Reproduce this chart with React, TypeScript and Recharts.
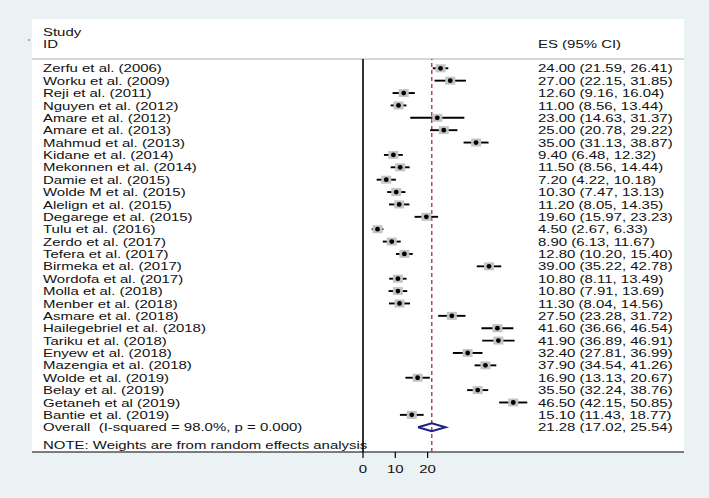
import { ScatterChart, Scatter, XAxis, YAxis, ErrorBar, ReferenceLine } from "recharts";

const STUDIES = [
  "Zerfu et al. (2006)",
  "Worku et al. (2009)",
  "Reji et al. (2011)",
  "Nguyen et al. (2012)",
  "Amare et al. (2012)",
  "Amare et al. (2013)",
  "Mahmud et al. (2013)",
  "Kidane et al. (2014)",
  "Mekonnen et al. (2014)",
  "Damie et al. (2015)",
  "Wolde M et al. (2015)",
  "Alelign et al. (2015)",
  "Degarege et al. (2015)",
  "Tulu et al. (2016)",
  "Zerdo et al. (2017)",
  "Tefera et al. (2017)",
  "Birmeka et al. (2017)",
  "Wordofa et al. (2017)",
  "Molla et al. (2018)",
  "Menber et al. (2018)",
  "Asmare et al. (2018)",
  "Hailegebriel et al. (2018)",
  "Tariku et al. (2018)",
  "Enyew et al. (2018)",
  "Mazengia et al. (2018)",
  "Wolde et al. (2019)",
  "Belay et al. (2019)",
  "Getaneh et al (2019)",
  "Bantie et al. (2019)",
];
const ES = [24.0, 27.0, 12.6, 11.0, 23.0, 25.0, 35.0, 9.4, 11.5, 7.2, 10.3, 11.2, 19.6, 4.5, 8.9, 12.8, 39.0, 10.8, 10.8, 11.3, 27.5, 41.6, 41.9, 32.4, 37.9, 16.9, 35.5, 46.5, 15.1];
const LOWER = [21.59, 22.15, 9.16, 8.56, 14.63, 20.78, 31.13, 6.48, 8.56, 4.22, 7.47, 8.05, 15.97, 2.67, 6.13, 10.2, 35.22, 8.11, 7.91, 8.04, 23.28, 36.66, 36.89, 27.81, 34.54, 13.13, 32.24, 42.15, 11.43];
const UPPER = [26.41, 31.85, 16.04, 13.44, 31.37, 29.22, 38.87, 12.32, 14.44, 10.18, 13.13, 14.35, 23.23, 6.33, 11.67, 15.4, 42.78, 13.49, 13.69, 14.56, 31.72, 46.54, 46.91, 36.99, 41.26, 20.67, 38.76, 50.85, 18.77];

const OVERALL_LABEL = "Overall  (I-squared = 98.0%, p = 0.000)";
const OVERALL_ES = 21.28;
const OVERALL_LO = 17.02;
const OVERALL_HI = 25.54;

const X_TICKS = [0, 10, 20];

const FONT = '"Liberation Sans", Arial, Helvetica, sans-serif';
const FS = 11.6;
const SX = 1.29;

const fmt = (v: number) => v.toFixed(2);
const overallRow = STUDIES.length + 1;
const rows = Array.from({ length: overallRow }, (_, i) => i + 1);

const leftText: Record<number, string> = {};
const rightText: Record<number, string> = {};
STUDIES.forEach((s, i) => {
  leftText[i + 1] = s;
  rightText[i + 1] = `${fmt(ES[i])} (${fmt(LOWER[i])}, ${fmt(UPPER[i])})`;
});
leftText[overallRow] = OVERALL_LABEL;
rightText[overallRow] = `${fmt(OVERALL_ES)} (${fmt(OVERALL_LO)}, ${fmt(OVERALL_HI)})`;

const studyData = STUDIES.map((_, i) => ({
  row: i + 1,
  x: ES[i],
  err: [ES[i] - LOWER[i], UPPER[i] - ES[i]],
}));

// diamond outline for the pooled estimate
const DH = 0.32;
const diamondData = [
  { x: OVERALL_LO, row: overallRow },
  { x: OVERALL_ES, row: overallRow - DH },
  { x: OVERALL_HI, row: overallRow },
  { x: OVERALL_ES, row: overallRow + DH },
  { x: OVERALL_LO, row: overallRow },
];

function Txt({ x, y, anchor = "start", children }: { x: number; y: number; anchor?: string; children: any }) {
  return (
    <text
      transform={`translate(${x},${y}) scale(${SX},1)`}
      fontSize={FS}
      fontFamily={FONT}
      fill="#111"
      textAnchor={anchor as any}
      style={{ whiteSpace: "pre" }}
    >
      {children}
    </text>
  );
}

const LeftTick = ({ y, payload }: any) => <Txt x={43} y={y + 4.1}>{leftText[payload.value]}</Txt>;
const RightTick = ({ y, payload }: any) => <Txt x={538} y={y + 4.1}>{rightText[payload.value]}</Txt>;
const BottomTick = ({ x, payload }: any) => <Txt x={x} y={473} anchor="middle">{payload.value}</Txt>;

const BoxShape = ({ cx, cy }: any) => <rect x={cx - 5} y={cy - 4} width={10} height={8} fill="#c4c4c4" />;
const DotShape = ({ cx, cy }: any) => <circle cx={cx} cy={cy} r={2.4} fill="#000" />;

export default function App() {
  return (
    <div style={{ position: "absolute", left: 0, top: 0, width: 709, height: 498 }}>
      <svg width={709} height={498} style={{ position: "absolute", left: 0, top: 0 }}>
        <rect x={0} y={0} width={709} height={498} fill="#eaf2f3" />
        <rect x={32} y={19} width={652} height={433} fill="#fff" />
        <line x1={32} x2={684} y1={59} y2={59} stroke="#c8c8c8" strokeWidth={1.5} />
        <line x1={32} x2={684} y1={452} y2={452} stroke="#000" strokeWidth={1.2} />
        <circle cx={29} cy={40} r={0.8} fill="#555" />
        <Txt x={43} y={36}>Study</Txt>
        <Txt x={43} y={48.3}>ID</Txt>
        <Txt x={538} y={48.3}>ES (95% CI)</Txt>
        <Txt x={43} y={449}>NOTE: Weights are from random effects analysis</Txt>
      </svg>
      <div style={{ position: "absolute", left: 0, top: 0 }}>
        <ScatterChart width={709} height={498} margin={{ top: 59, right: 0, bottom: 0, left: 0 }}>
          <XAxis
            dataKey="x"
            type="number"
            domain={[0, 52]}
            ticks={X_TICKS}
            axisLine={false}
            tickSize={6}
            tickLine={{ stroke: "#000", strokeWidth: 1.2 }}
            tick={<BottomTick />}
            height={46}
            allowDataOverflow
          />
          <YAxis
            yAxisId="rows"
            dataKey="row"
            type="number"
            domain={[0.25, 32]}
            reversed
            ticks={rows}
            interval={0}
            width={363}
            axisLine={{ stroke: "#000", strokeWidth: 1.6 }}
            tickLine={false}
            tick={<LeftTick />}
            allowDataOverflow
          />
          <YAxis
            yAxisId="es"
            orientation="right"
            dataKey="row"
            type="number"
            domain={[0.25, 32]}
            reversed
            ticks={rows}
            interval={0}
            width={178}
            axisLine={false}
            tickLine={false}
            tick={<RightTick />}
            allowDataOverflow
          />
          <ReferenceLine yAxisId="rows" x={OVERALL_ES} stroke="#b0484e" strokeDasharray="4 3" strokeWidth={1.5} />
          <Scatter yAxisId="rows" data={studyData} shape={<BoxShape />} isAnimationActive={false} />
          <Scatter yAxisId="rows" data={studyData} shape={<DotShape />} isAnimationActive={false}>
            <ErrorBar dataKey="err" direction="x" width={0} stroke="#000" strokeWidth={1.9} />
          </Scatter>
          <Scatter
            yAxisId="rows"
            data={diamondData}
            line={{ stroke: "#1b1f8a", strokeWidth: 2 }}
            shape={() => <g />}
            isAnimationActive={false}
          />
        </ScatterChart>
      </div>
    </div>
  );
}
